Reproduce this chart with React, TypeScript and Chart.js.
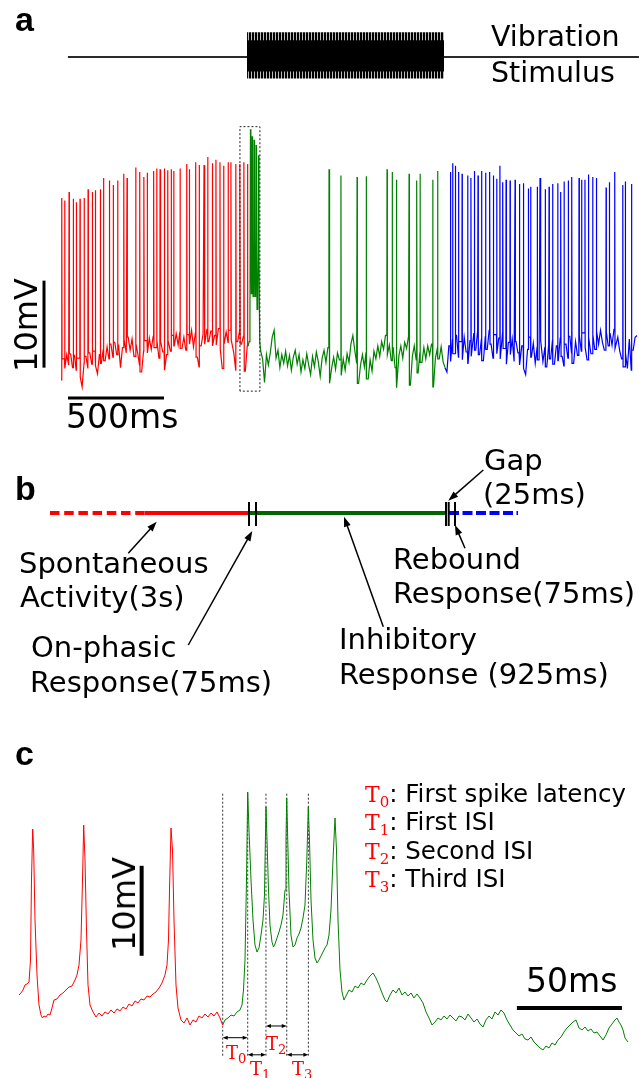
import React, { useEffect, useRef } from "react";
import { Chart, registerables } from "chart.js";
Chart.register(...registerables);

// ================= DATA =================
// ---- Panel a : membrane potential (mV) vs time (ms) ----
const SAMPLE_MS = 10;
const redBaseStart = 0;
const redBase = [
  -65.9, -63.5, -64.6, -63.0, -64.2, -62.9, -64.5, -63.1, -64.8, -63.4,
  -65.6, -66.7, -64.0, -63.2, -64.6, -62.8, -64.1, -62.6, -64.3, -65.2,
  -63.0, -64.0, -62.4, -63.7, -62.1, -63.5, -61.8, -63.3, -61.6, -63.0,
  -61.9, -64.5, -62.2, -61.3, -62.8, -61.0, -62.5, -61.2, -63.2, -61.7,
  -62.9, -64.2, -65.0, -62.6, -61.4, -62.8, -61.1, -62.4, -60.9, -62.2,
  -61.3, -63.4, -61.5, -62.7, -64.8, -63.0, -61.4, -62.6, -60.8, -62.0,
  -60.6, -61.9, -60.4, -62.3, -61.0, -62.5, -60.7, -61.8, -60.2, -62.1,
  -60.5, -63.3, -64.4, -62.0, -60.6, -61.8, -60.1, -61.5, -60.3, -62.0,
  -60.8, -61.9, -60.0, -62.4, -64.6, -61.7, -60.4, -61.6, -60.2, -61.3,
  -62.8, -64.8, -61.5, -60.3, -61.8, -60.9, -64.9, -62.0,
];
const redSpikeT = [4, 19, 42, 64, 80, 99, 121, 141, 163, 179, 205, 222, 252, 272, 295, 327, 344, 389, 410, 432, 449, 483, 498, 516, 538, 556, 574, 587, 620, 655, 668, 702, 720, 745, 764, 788, 807, 828, 847, 871, 885, 911, 932, 953, 972];
const redSpikeV = [-45.0, -45.3, -44.3, -45.1, -45.5, -45.1, -45.0, -44.0, -44.3, -44.1, -44.0, -42.7, -43.0, -43.5, -43.0, -42.2, -42.7, -41.5, -42.0, -42.6, -42.1, -41.9, -41.6, -41.7, -41.6, -41.8, -41.7, -41.9, -41.6, -41.1, -41.7, -40.9, -41.2, -41.2, -40.3, -41.0, -40.6, -40.9, -41.3, -40.9, -40.9, -41.1, -41.1, -40.9, -41.1];

const greenBurstT = [975, 980, 984, 986.8, 989, 991.5, 994, 995.6, 997.5, 1000.5, 1003.5, 1005.5, 1007.5, 1010.5, 1013.5, 1015.7, 1018, 1021, 1025, 1028.5, 1031, 1035, 1040];
const greenBurstV = [-62.0, -61.5, -60.0, -37.1, -50.0, -56.0, -53.5, -37.9, -50.0, -56.3, -54.0, -38.3, -50.0, -56.3, -54.5, -38.9, -51.0, -57.8, -56.5, -40.1, -52.0, -61.5, -62.6];
const greenBaseStart = 1050;
const greenBase = [
  -63.5, -66.2, -63.0, -64.2, -62.8, -61.0, -60.2, -63.4, -62.5, -64.5,
  -63.0, -64.0, -62.6, -64.3, -63.1, -64.8, -63.3, -62.5, -64.1, -63.0,
  -65.0, -63.6, -64.6, -62.9, -64.2, -65.3, -63.2, -64.4, -62.7, -63.8,
  -65.5, -63.4, -62.5, -63.9, -62.2, -66.3, -64.5, -63.3, -64.7, -62.8,
  -63.6, -65.4, -63.5, -64.8, -62.9, -63.9, -61.8, -60.8, -62.5, -64.0,
  -66.3, -64.2, -63.0, -64.4, -62.7, -65.8, -63.6, -64.9, -62.6, -63.5,
  -62.0, -63.2, -61.5, -62.4, -60.8, -63.0, -61.9, -63.7, -62.2, -64.5,
  -66.8, -63.1, -62.0, -63.4, -61.6, -62.3, -60.9, -66.5, -63.2, -62.0,
  -63.6, -65.1, -62.8, -63.9, -62.2, -63.5, -62.0, -63.0, -61.8, -66.7,
  -63.4, -62.3, -63.5, -62.1, -63.8,
];
const greenSpikeT = [1396, 1458, 1542, 1590, 1698, 1725, 1746, 1813, 1853, 1870, 1936, 1962];
const greenSpikeV = [-41.7, -42.4, -42.6, -42.5, -41.7, -42.0, -42.9, -42.2, -43.0, -42.2, -42.9, -41.9];

const blueBaseStart = 2000;
const blueBase = [
  -64.5, -65.0, -62.0, -63.8, -61.2, -62.9, -60.8, -63.3, -61.5, -63.6,
  -61.0, -62.7, -64.0, -61.4, -63.2, -60.6, -62.5, -60.3, -63.0, -61.2,
  -63.7, -60.9, -62.4, -60.2, -61.8, -63.4, -60.7, -62.9, -61.1, -63.5,
  -60.5, -62.3, -64.1, -61.6, -63.0, -61.2, -63.8, -61.5, -62.8, -64.2,
  -62.0, -64.6, -65.3, -62.4, -61.0, -63.3, -61.7, -64.0, -62.1, -63.6,
  -61.4, -63.8, -62.2, -64.4, -61.9, -63.5, -61.3, -64.1, -62.0, -63.7,
  -61.1, -63.2, -64.3, -61.8, -63.4, -60.9, -62.8, -64.0, -61.5, -63.1,
  -60.8, -62.6, -60.5, -62.2, -63.6, -61.0, -62.9, -60.7, -62.4, -60.3,
  -61.8, -60.2, -61.6, -62.5, -60.4, -62.0, -60.6, -61.9, -60.1, -62.3,
  -61.0, -62.6, -63.5, -64.4, -62.8, -64.6, -61.2, -64.8, -62.5, -61.0,
  -60.8,
];
const blueSpikeT = [2028, 2040, 2054, 2071, 2089, 2118, 2135, 2153, 2172, 2191, 2212, 2233, 2252, 2269, 2286, 2301, 2318, 2339, 2365, 2387, 2408, 2434, 2446, 2481, 2495, 2522, 2542, 2561, 2587, 2603, 2620, 2642, 2660, 2698, 2712, 2729, 2746, 2769, 2788, 2839, 2856, 2884, 2926, 2939, 2972];
const blueSpikeV = [-42.0, -41.0, -41.3, -42.0, -42.2, -42.4, -42.7, -41.9, -42.4, -41.9, -42.1, -42.0, -42.4, -42.8, -41.3, -43.2, -42.9, -43.0, -42.9, -43.4, -43.3, -43.9, -43.7, -43.7, -42.7, -44.0, -43.7, -43.4, -43.3, -44.3, -43.1, -43.0, -42.6, -42.7, -42.9, -42.9, -42.3, -42.6, -42.7, -43.8, -43.2, -42.0, -43.5, -43.1, -43.4];

// vibration stimulus (ms, normalised amplitude)
const stimOnOff = [969, 1995];
const stimLineMs = [36, 3010];
const stimOuter = [0.62, -0.54];
const stimInner = [0.42, -0.36];

// dotted box around the on-phasic response (ms, mV)
const boxMs = [932, 1036];
const boxMv = [-67.2, -36.8];
// scale bars in panel a
const aBarVoltMs = -88.5;
const aBarVoltMv = [-64.5, -54.5];
const aBarTimeMs = [36.5, 536.5];
const aBarTimeMv = -68;

// ---- Panel b : schematic time line (schematic ms) ----
const bSegStart = [0, 475, 995, 1995];
const bSegEnd = [475, 995, 1980, 2340];
const bTicks = [995, 1030, 1980, 1993.5, 2025];
const bTickSpan = [11, -13];
const bArrowFrom = [[391.5, -40.3], [691.5, -132], [1666.5, -113.7], [2166.5, 43], [2075, -35.3]];
const bArrowTo = [[533.5, -8.7], [1011.5, -18], [1470, -3.7], [1991.5, 12.3], [2025, -12]];

// ---- Panel c : zoom on stimulus onset (ms, mV) ----
const cRedTrace = [
  [0, -62.56], [0.95, -62.33], [1.9, -62.0], [2.86, -61.44], [3.81, -61.33], [4.76, -61.11], [5.48, -58.67], [5.95, -49.78],
  [6.52, -44.11], [7.0, -46.44], [7.62, -54.22], [8.57, -60.33], [9.52, -63.67], [10.48, -64.78], [11.19, -65.11], [11.9, -64.89],
  [12.86, -65.0], [13.81, -64.67], [14.76, -64.78], [15.71, -64.0], [16.67, -63.11], [18.1, -63.0], [19.52, -62.56], [20.95, -62.33],
  [22.38, -62.0], [23.81, -61.67], [25.24, -61.56], [26.67, -60.89], [27.62, -60.33], [28.57, -59.22], [29.52, -56.44], [30.24, -49.78],
  [30.81, -43.67], [31.43, -47.56], [32.14, -55.33], [32.86, -61.44], [33.81, -63.67], [35.24, -64.44], [36.67, -65.0], [38.1, -64.56],
  [39.52, -64.89], [40.95, -64.44], [42.38, -64.67], [43.81, -64.22], [45.24, -64.56], [46.67, -64.11], [48.1, -64.33], [49.52, -63.89],
  [50.95, -64.11], [52.38, -63.56], [53.81, -63.78], [55.24, -63.22], [56.67, -63.44], [58.1, -63.0], [59.52, -63.11], [60.95, -62.67],
  [62.38, -62.78], [63.81, -62.44], [65.24, -62.22], [66.67, -61.78], [68.1, -61.22], [69.52, -60.33], [70.48, -59.22], [71.19, -56.44],
  [71.67, -50.89], [72.38, -44.0], [73.1, -46.44], [73.81, -54.22], [74.76, -61.44], [75.71, -64.0], [77.14, -65.33], [78.57, -65.67],
  [80.0, -65.11], [81.43, -65.89], [82.86, -65.33], [84.29, -65.56], [85.71, -64.89], [87.14, -65.11], [88.57, -64.67], [90.0, -65.0],
  [91.43, -64.56], [92.86, -64.89], [94.29, -64.44], [95.71, -65.11], [97.0, -65.89],
];
const cGreenTrace = [
  [97.0, -65.89], [98.1, -65.33], [99.52, -65.11], [100.95, -64.78], [102.38, -64.89], [103.81, -64.44], [105.24, -64.22], [106.19, -63.67],
  [106.9, -62.0], [107.62, -58.67], [108.33, -49.78], [108.9, -40.0], [109.52, -44.22], [110.48, -49.78], [111.43, -54.22], [112.38, -57.0],
  [113.33, -57.78], [114.29, -57.33], [115.24, -55.89], [116.19, -54.22], [116.9, -51.44], [117.24, -46.44], [117.62, -41.67], [118.1, -45.33],
  [118.81, -50.89], [119.52, -54.78], [120.48, -56.67], [121.19, -57.22], [121.9, -56.89], [122.86, -56.22], [123.81, -55.56], [124.76, -54.78],
  [125.71, -53.67], [126.67, -50.89], [127.14, -45.33], [127.48, -40.67], [127.86, -44.22], [128.57, -50.89], [129.52, -55.89], [130.48, -57.22],
  [131.43, -57.0], [132.38, -56.22], [133.33, -55.78], [134.29, -55.11], [135.24, -54.0], [136.19, -52.56], [137.05, -47.56], [137.76, -41.67],
  [138.33, -45.33], [139.05, -52.0], [140.0, -56.44], [140.95, -58.44], [141.9, -59.0], [142.86, -58.67], [143.81, -58.22], [144.76, -57.78],
  [145.71, -57.33], [146.67, -57.0], [147.62, -55.89], [148.57, -53.11], [149.52, -47.56], [150.48, -42.89], [151.19, -46.44], [151.9, -54.22],
  [152.86, -59.78], [153.81, -62.22], [154.76, -63.11], [155.71, -62.67], [157.14, -62.0], [158.57, -62.22], [160.0, -61.56], [161.43, -61.78],
  [162.86, -61.22], [164.29, -61.44], [165.71, -60.89], [167.14, -60.44], [168.57, -60.11], [170.0, -60.67], [171.43, -61.44], [172.86, -62.33],
  [174.29, -63.11], [175.24, -63.33], [176.67, -62.56], [178.1, -62.0], [179.52, -62.33], [180.95, -61.78], [182.38, -62.56], [183.81, -62.22],
  [185.24, -62.67], [186.67, -62.33], [188.1, -62.89], [189.52, -62.44], [190.95, -62.89], [192.38, -63.44], [193.81, -64.44], [195.24, -65.11],
  [196.67, -65.89], [198.1, -65.56], [199.52, -65.11], [200.95, -65.33], [202.38, -64.89], [203.81, -65.22], [205.24, -64.78], [206.67, -65.11],
  [208.1, -65.44], [209.52, -64.89], [210.95, -65.0], [212.38, -65.33], [213.81, -64.67], [215.24, -65.11], [216.67, -65.56], [218.1, -65.22],
  [219.52, -65.78], [220.95, -66.11], [222.38, -65.33], [223.81, -64.89], [225.24, -65.22], [226.67, -64.44], [228.1, -64.78], [229.52, -64.22],
  [230.95, -64.56], [232.38, -65.33], [233.81, -65.89], [235.24, -66.44], [236.67, -66.78], [238.1, -67.11], [239.52, -66.89], [240.95, -67.44],
  [242.38, -67.56], [243.81, -67.22], [245.24, -67.78], [246.67, -68.11], [248.1, -68.44], [249.52, -68.67], [250.95, -68.22], [252.38, -68.44],
  [253.81, -67.89], [255.24, -68.11], [256.67, -67.56], [258.1, -67.22], [259.52, -66.67], [260.95, -66.22], [262.38, -65.89], [263.81, -65.56],
  [265.24, -65.33], [266.67, -66.22], [268.1, -66.44], [269.52, -66.11], [270.95, -66.56], [272.38, -66.33], [273.81, -66.78], [275.24, -66.67],
  [276.67, -67.11], [278.1, -67.56], [279.52, -67.0], [280.95, -66.22], [282.38, -65.78], [283.81, -65.33], [284.76, -65.11], [285.71, -65.56],
  [286.67, -65.89], [287.62, -66.44], [288.57, -67.33], [290.0, -67.78],
];
const cEventMs = [97.0, 108.9, 117.6, 127.5, 137.8];
const cEventSpanMv = [-69.3, -40.1];
const cIntervalMv = [-67.3, -69.2, -66.0, -69.2];
const cBarVoltMs = 58.4;
const cBarVoltMv = [-58.2, -48.2];
const cBarTimeMs = [237.1, 287.1];
const cBarTimeMv = -64.0;

// ================= HELPERS =================
type P = { x: number; y: number };

function buildTrace(start: number, base: number[], spikeT: number[], spikeV: number[]): P[] {
  const pts: P[] = base.map((v, i) => ({ x: start + i * SAMPLE_MS, y: v }));
  spikeT.forEach((ts, k) => {
    const i = Math.min(base.length - 1, Math.max(0, Math.floor((ts - start) / SAMPLE_MS)));
    const before = base[i];
    const after = base[Math.min(base.length - 1, i + 1)];
    pts.push({ x: ts - 1, y: before }, { x: ts, y: spikeV[k] }, { x: ts + 1.5, y: after });
  });
  pts.sort((a, b) => a.x - b.x);
  return pts;
}

function line(data: P[], color: string, width: number, dash: number[] = [], extra: any = {}) {
  return {
    type: "line",
    data,
    borderColor: color,
    backgroundColor: color,
    borderWidth: width,
    borderDash: dash,
    borderCapStyle: "butt",
    pointRadius: 0,
    pointHoverRadius: 0,
    fill: false,
    tension: 0,
    ...extra,
  };
}

function baseOptions(xr: number[], yr: number[], reverseY = false) {
  return {
    responsive: false,
    maintainAspectRatio: false,
    animation: false,
    devicePixelRatio: 1,
    events: [],
    layout: { padding: 0 },
    plugins: { legend: { display: false }, tooltip: { enabled: false }, title: { display: false } },
    scales: {
      x: { type: "linear", display: false, min: xr[0], max: xr[1] },
      y: { type: "linear", display: false, min: yr[0], max: yr[1], reverse: reverseY },
    },
    elements: { point: { radius: 0 }, line: { tension: 0 } },
  };
}

function makeArrowPlugin(items: { from: number[]; to: number[]; both?: boolean }[], color: string, width: number, headL: number, headW: number) {
  return {
    id: "arrowLines",
    afterDatasetsDraw(chart: any) {
      const ctx = chart.ctx;
      const xs = chart.scales.x;
      const ys = chart.scales.y;
      ctx.save();
      ctx.strokeStyle = color;
      ctx.fillStyle = color;
      ctx.lineWidth = width;
      ctx.setLineDash([]);
      const head = (px: number, py: number, a: number) => {
        const c = Math.cos(a), s = Math.sin(a);
        ctx.beginPath();
        ctx.moveTo(px, py);
        ctx.lineTo(px - headL * c + (headW / 2) * s, py - headL * s - (headW / 2) * c);
        ctx.lineTo(px - headL * c - (headW / 2) * s, py - headL * s + (headW / 2) * c);
        ctx.closePath();
        ctx.fill();
      };
      for (const it of items) {
        const x1 = xs.getPixelForValue(it.from[0]);
        const y1 = ys.getPixelForValue(it.from[1]);
        const x2 = xs.getPixelForValue(it.to[0]);
        const y2 = ys.getPixelForValue(it.to[1]);
        const a = Math.atan2(y2 - y1, x2 - x1);
        const c = Math.cos(a), s = Math.sin(a);
        const k = headL * 0.8;
        const sx = it.both ? x1 + k * c : x1;
        const sy = it.both ? y1 + k * s : y1;
        ctx.beginPath();
        ctx.moveTo(sx, sy);
        ctx.lineTo(x2 - k * c, y2 - k * s);
        ctx.stroke();
        head(x2, y2, a);
        if (it.both) head(x1, y1, a + Math.PI);
      }
      ctx.restore();
    },
  };
}

// ================= CHART BUILDERS =================
const A_X = [-317.708, 3010.417];

function buildStim() {
  const pc = document.createElement("canvas");
  pc.width = 3;
  pc.height = 1;
  const pctx = pc.getContext("2d")!;
  pctx.fillStyle = "#000";
  pctx.fillRect(0, 0, 2, 1);
  pctx.fillStyle = "#bdbdbd";
  pctx.fillRect(2, 0, 1, 1);
  const pattern = pctx.createPattern(pc, "repeat") || "#333";
  const env = (v: number) => [{ x: stimOnOff[0], y: v }, { x: stimOnOff[1], y: v }];
  const clear = "rgba(0,0,0,0)";
  return {
    type: "line",
    data: {
      datasets: [
        line(env(stimInner[0]), clear, 1),
        line(env(stimInner[1]), clear, 1, [], { fill: "-1", backgroundColor: "#000" }),
        line(env(stimOuter[0]), clear, 1),
        line(env(stimOuter[1]), clear, 1, [], { fill: "-1", backgroundColor: pattern }),
        line([{ x: stimLineMs[0], y: 0 }, { x: stimLineMs[1], y: 0 }], "#2a2a2a", 2),
      ],
    },
    options: baseOptions(A_X, [-1, 1]),
  };
}

function buildTraceA() {
  const redPts = buildTrace(redBaseStart, redBase, redSpikeT, redSpikeV);
  const greenPts = [
    ...greenBurstT.map((t, i) => ({ x: t, y: greenBurstV[i] })),
    ...buildTrace(greenBaseStart, greenBase, greenSpikeT, greenSpikeV),
  ];
  const bluePts = buildTrace(blueBaseStart, blueBase, blueSpikeT, blueSpikeV);
  redPts.push(greenPts[0]);
  greenPts.push(bluePts[0]);
  const box = [
    { x: boxMs[0], y: boxMv[0] },
    { x: boxMs[0], y: boxMv[1] },
    { x: boxMs[1], y: boxMv[1] },
    { x: boxMs[1], y: boxMv[0] },
    { x: boxMs[0], y: boxMv[0] },
  ];
  return {
    type: "line",
    data: {
      datasets: [
        line(box, "#222", 1, [2, 2]),
        line([{ x: aBarVoltMs, y: aBarVoltMv[0] }, { x: aBarVoltMs, y: aBarVoltMv[1] }], "#000", 3),
        line([{ x: aBarTimeMs[0], y: aBarTimeMv }, { x: aBarTimeMs[1], y: aBarTimeMv }], "#000", 3),
        line(redPts, "#ff0000", 1.2),
        line(greenPts, "#008000", 1.2),
        line(bluePts, "#0000ff", 1.2),
      ],
    },
    options: baseOptions(A_X, [-72.816, -33.736]),
  };
}

function buildSchematicB() {
  const colors = ["#ff0000", "#ff0000", "#006400", "#0000ff"];
  const dashes = [[9.5, 4.7], [], [], [10, 3.5]];
  const segs = bSegStart.map((s, i) =>
    line([{ x: s, y: 0 }, { x: bSegEnd[i], y: 0 }], colors[i], 4, dashes[i])
  );
  const ticks = bTicks.map((t) => line([{ x: t, y: bTickSpan[0] }, { x: t, y: bTickSpan[1] }], "#000", 2));
  const arrows = bArrowFrom.map((f, i) => ({ from: f, to: bArrowTo[i] }));
  return {
    type: "line",
    data: { datasets: [...ticks, ...segs] },
    options: baseOptions([-250, 2945], [-187, 53]),
    plugins: [makeArrowPlugin(arrows, "#000", 1.5, 10, 7)],
  };
}

function buildTraceC() {
  const red = cRedTrace.map(([t, v]) => ({ x: t, y: v }));
  const green = cGreenTrace.map(([t, v]) => ({ x: t, y: v }));
  const markers = cEventMs.map((t) =>
    line([{ x: t, y: cEventSpanMv[0] }, { x: t, y: cEventSpanMv[1] }], "#333", 1, [2, 2])
  );
  const arrows = cIntervalMv.map((v, i) => ({ from: [cEventMs[i], v], to: [cEventMs[i + 1], v], both: true }));
  return {
    type: "line",
    data: {
      datasets: [
        line(red, "#ff0000", 1),
        line(green, "#008000", 1),
        ...markers,
        line([{ x: cBarVoltMs, y: cBarVoltMv[0] }, { x: cBarVoltMs, y: cBarVoltMv[1] }], "#000", 4),
        line([{ x: cBarTimeMs[0], y: cBarTimeMv }, { x: cBarTimeMs[1], y: cBarTimeMv }], "#000", 4),
      ],
    },
    options: baseOptions([-9.048, 295.238], [-71.778, -38.667]),
    plugins: [makeArrowPlugin(arrows, "#000", 1, 5, 4)],
  };
}

// ================= COMPONENTS =================
function PlotCanvas({ left, top, width, height, build }: any) {
  const ref = useRef<HTMLCanvasElement>(null);
  useEffect(() => {
    if (!ref.current) return;
    const chart = new Chart(ref.current, build() as any);
    return () => chart.destroy();
  }, []);
  return (
    <canvas
      ref={ref}
      width={width}
      height={height}
      style={{ position: "absolute", left, top, width, height, display: "block" }}
    />
  );
}

const SANS = '"DejaVu Sans", "Noto Sans", sans-serif';
const LAB = '"Liberation Sans", Arial, sans-serif';
const SERIF = '"DejaVu Serif", "Liberation Serif", serif';

function Txt({ x, y, size, children, bold, family, color }: any) {
  return (
    <div
      style={{
        position: "absolute",
        left: x,
        top: y - 0.846 * size,
        fontSize: size,
        lineHeight: `${size}px`,
        fontFamily: family || SANS,
        fontWeight: bold ? "bold" : "normal",
        color: color || "#000",
        whiteSpace: "nowrap",
      }}
    >
      {children}
    </div>
  );
}

function VTxt({ cx, cy, size, children }: any) {
  return (
    <div
      style={{
        position: "absolute",
        left: cx,
        top: cy,
        fontSize: size,
        lineHeight: `${size}px`,
        fontFamily: SANS,
        whiteSpace: "nowrap",
        transform: "translate(-50%, -50%) rotate(-90deg)",
      }}
    >
      {children}
    </div>
  );
}

function TSym({ n, size, sub }: any) {
  return (
    <span style={{ fontFamily: SERIF, color: "#ff0000", fontSize: size, lineHeight: 1 }}>
      T
      <span style={{ fontSize: sub, position: "relative", top: Math.round(size * 0.24) }}>{n}</span>
    </span>
  );
}

export default function App() {
  return (
    <div
      style={{
        position: "absolute",
        left: 0,
        top: 0,
        width: 639,
        height: 1078,
        background: "#fff",
        overflow: "hidden",
      }}
    >
      <PlotCanvas left={0} top={17} width={639} height={80} build={buildStim} />
      <PlotCanvas left={0} top={100} width={639} height={340} build={buildTraceA} />
      <PlotCanvas left={0} top={460} width={639} height={240} build={buildSchematicB} />
      <PlotCanvas left={0} top={780} width={639} height={298} build={buildTraceC} />

      {/* panel a */}
      <Txt x={15} y={31} size={34} bold family={LAB}>a</Txt>
      <Txt x={491} y={47} size={28.5}>Vibration</Txt>
      <Txt x={491} y={83} size={28.5}>Stimulus</Txt>
      <VTxt cx={25.9} cy={324.5} size={32}>10mV</VTxt>
      <Txt x={66} y={428} size={33}>500ms</Txt>

      {/* panel b */}
      <Txt x={15} y={500} size={34} bold family={LAB}>b</Txt>
      <Txt x={19} y={574} size={29}>Spontaneous</Txt>
      <Txt x={20} y={608} size={29}>Activity(3s)</Txt>
      <Txt x={31} y={658} size={29}>On-phasic</Txt>
      <Txt x={30} y={693} size={29}>Response(75ms)</Txt>
      <Txt x={339} y={650} size={29}>Inhibitory</Txt>
      <Txt x={339} y={685} size={29}>Response (925ms)</Txt>
      <Txt x={393} y={570} size={29}>Rebound</Txt>
      <Txt x={393} y={604} size={29}>Response(75ms)</Txt>
      <Txt x={484} y={471} size={29}>Gap</Txt>
      <Txt x={483} y={505} size={29}>(25ms)</Txt>

      {/* panel c */}
      <Txt x={15} y={765} size={34} bold family={LAB}>c</Txt>
      <Txt x={365} y={803} size={24.5}><TSym n="0" size={22} sub={15} />: First spike latency</Txt>
      <Txt x={365} y={831} size={24.5}><TSym n="1" size={22} sub={15} />: First ISI</Txt>
      <Txt x={365} y={860} size={24.5}><TSym n="2" size={22} sub={15} />: Second ISI</Txt>
      <Txt x={365} y={888} size={24.5}><TSym n="3" size={22} sub={15} />: Third ISI</Txt>
      <VTxt cx={123.9} cy={904} size={32}>10mV</VTxt>
      <Txt x={526} y={992} size={33}>50ms</Txt>
      <Txt x={226} y={1059} size={18}><TSym n="0" size={18} sub={13} /></Txt>
      <Txt x={250} y={1075} size={18}><TSym n="1" size={18} sub={13} /></Txt>
      <Txt x={266} y={1050} size={18}><TSym n="2" size={18} sub={13} /></Txt>
      <Txt x={292} y={1075} size={18}><TSym n="3" size={18} sub={13} /></Txt>
    </div>
  );
}
